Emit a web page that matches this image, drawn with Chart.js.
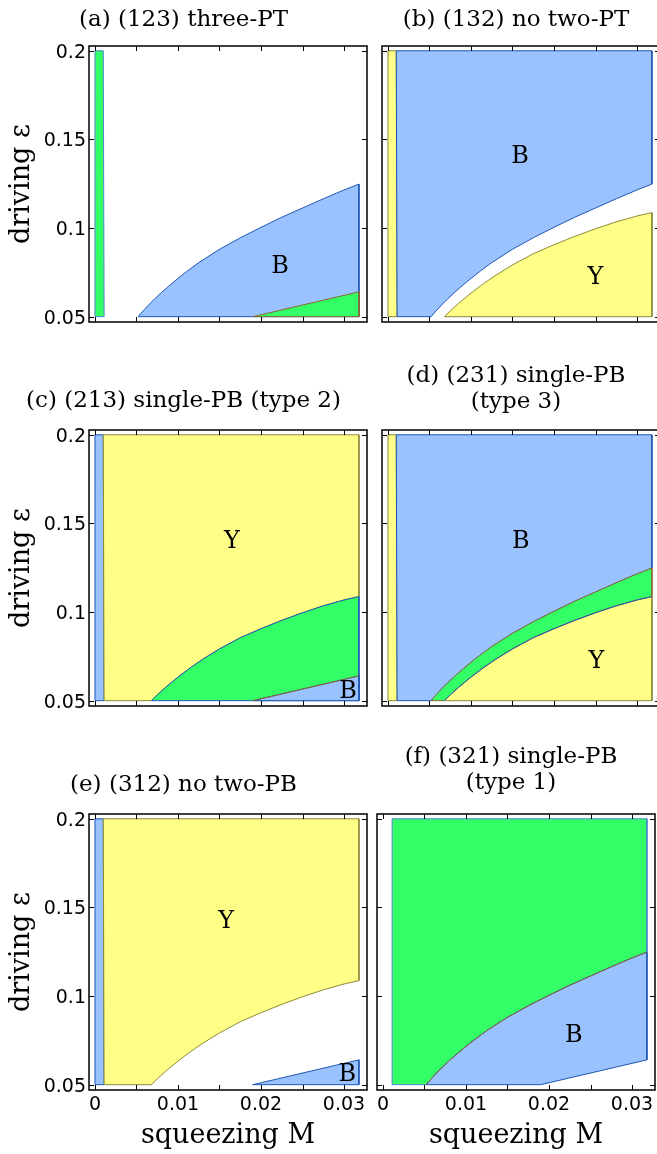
<!DOCTYPE html>
<html>
<head>
<meta charset="utf-8">
<script src="https://cdn.jsdelivr.net/npm/chart.js@4.4.1/dist/chart.umd.min.js"></script>
<style>
  html, body { margin: 0; padding: 0; background: #fff; overflow: hidden; }
  body { width: 657px; height: 1154px; position: relative; }
  canvas { position: absolute; }
</style>
</head>
<body>
<canvas id="pa"></canvas>
<canvas id="pb"></canvas>
<canvas id="pc"></canvas>
<canvas id="pd"></canvas>
<canvas id="pe"></canvas>
<canvas id="pf"></canvas>
<script>
// axes
const mRange = [0, 0.0318];
const epsRange = [0.05, 0.2];
const mTicks = [0, 0.005, 0.01, 0.015, 0.02, 0.025, 0.03];
const mLabelValues = [0, 0.01, 0.02, 0.03];
const mLabels = ['0', '0.01', '0.02', '0.03'];
const epsTicks = [0.05, 0.1, 0.15, 0.2];
const epsLabels = ['0.05', '0.1', '0.15', '0.2'];

// boundary curves in the (M, eps) plane
const upperM = [0.0052, 0.0058, 0.0065, 0.0072, 0.008, 0.009, 0.01, 0.011, 0.0125, 0.015, 0.0175, 0.02, 0.0225, 0.025, 0.0275, 0.03, 0.0318];
const upperEps = [0.05, 0.0533, 0.0568, 0.0601, 0.0636, 0.0677, 0.0716, 0.0753, 0.0805, 0.088, 0.0945, 0.1004, 0.1061, 0.1113, 0.1165, 0.1215, 0.1248];
const lowerM = [0.0068, 0.0075, 0.0085, 0.01, 0.0115, 0.013, 0.015, 0.0175, 0.02, 0.0225, 0.025, 0.0275, 0.03, 0.0318];
const lowerEps = [0.05, 0.0533, 0.0575, 0.0633, 0.0686, 0.0734, 0.0792, 0.0855, 0.0906, 0.0953, 0.0996, 0.1035, 0.1068, 0.1087];
const wedgeM = [0.019, 0.0318];
const wedgeEps = [0.05, 0.064];
const stripM = [0, 0, 0.001, 0.0011];
const stripEps = [0.05, 0.2, 0.2, 0.05];
const innerEdgeM = [0.0011, 0.001];   // bottom, top
const outerEdgeM = [0.0012, 0.0011];  // panel (f)

const titles = [
  ['(a) (123) three-PT'],
  ['(b) (132) no two-PT'],
  ['(c) (213) single-PB (type 2)'],
  ['(d) (231) single-PB', '(type 3)'],
  ['(e) (312) no two-PB'],
  ['(f) (321) single-PB', '(type 1)']
];

// region letters
const tagsA = { text: ['B'], m: [0.0223], eps: [0.0782] };
const tagsB = { text: ['B', 'Y'], m: [0.0159, 0.025], eps: [0.1402, 0.0717] };
const tagsC = { text: ['Y', 'B'], m: [0.0165, 0.0305], eps: [0.1398, 0.0551] };
const tagsD = { text: ['B', 'Y'], m: [0.016, 0.0251], eps: [0.1398, 0.072] };
const tagsE = { text: ['Y', 'B'], m: [0.0158, 0.0304], eps: [0.1421, 0.0556] };
const tagsF = { text: ['B'], m: [0.023], eps: [0.0778] };

const BLUE = '#99c2ff', GREEN = '#33ff66', YELLOW = '#ffff88';
const BLUE_EDGE = '#1f56b4', GREEN_EDGE = '#8a6a2e', YELLOW_EDGE = '#8c8a36', STRIP_EDGE = '#4d85cf';

const xy = (ms, es) => ms.map((m, i) => ({ x: m, y: es[i] }));
const close = pts => pts.concat([pts[0]]);

const upper = xy(upperM, upperEps);
const lower = xy(lowerM, lowerEps);
const wedge = xy(wedgeM, wedgeEps);
const strip = close(xy(stripM, stripEps));

const above = (curve, edge) => close([
  { x: edge[0], y: epsRange[0] }, { x: edge[1], y: epsRange[1] },
  { x: mRange[1], y: epsRange[1] }, ...curve.slice().reverse()
]);
const below = curve => close([...curve, { x: mRange[1], y: epsRange[0] }]);
const band = close([...upper, ...lower.slice().reverse()]);
const cut = close([...upper, wedge[1], wedge[0]]);
const wedgeShape = close([...wedge, { x: mRange[1], y: epsRange[0] }]);

const area = (data, fillColor, edge) => ({ data, fill: 'shape', backgroundColor: fillColor, borderColor: edge });
const edgeLine = (data, edge) => ({ data, fill: false, borderColor: edge });

const panels = [
  { id: 'pa', left: 0, top: 7, col: 0, last: false, gap: 13, tags: tagsA,
    layers: [area(strip, GREEN, STRIP_EDGE), area(below(upper), BLUE, BLUE_EDGE), area(wedgeShape, GREEN, GREEN_EDGE)] },
  { id: 'pb', left: 372, top: 7, col: 1, last: false, gap: 13, tags: tagsB,
    layers: [area(strip, YELLOW, YELLOW_EDGE), area(above(upper, innerEdgeM), BLUE, BLUE_EDGE), area(below(lower), YELLOW, YELLOW_EDGE)] },
  { id: 'pc', left: 0, top: 388, col: 0, last: false, gap: 16, tags: tagsC,
    layers: [area(strip, BLUE, BLUE_EDGE), area(above(lower, innerEdgeM), YELLOW, YELLOW_EDGE), area(below(lower), GREEN, BLUE_EDGE),
             area(wedgeShape, BLUE, BLUE_EDGE), edgeLine(wedge, GREEN_EDGE)] },
  { id: 'pd', left: 372, top: 363, col: 1, last: false, gap: 15, tags: tagsD,
    layers: [area(strip, YELLOW, YELLOW_EDGE), area(above(upper, innerEdgeM), BLUE, BLUE_EDGE), area(band, GREEN, GREEN_EDGE),
             area(below(lower), YELLOW, YELLOW_EDGE), edgeLine(lower, BLUE_EDGE)] },
  { id: 'pe', left: 0, top: 772, col: 0, last: true, gap: 16, tags: tagsE,
    layers: [area(strip, BLUE, BLUE_EDGE), area(above(lower, innerEdgeM), YELLOW, YELLOW_EDGE), area(wedgeShape, BLUE, BLUE_EDGE)] },
  { id: 'pf', left: 367, top: 744, col: 1, last: true, gap: 18, tags: tagsF,
    layers: [area(above(upper, outerEdgeM), GREEN, STRIP_EDGE), area(cut, BLUE, BLUE_EDGE), edgeLine(upper, GREEN_EDGE)] }
];

// frame with inward ticks on all four sides
const frameTicks = {
  id: 'frameTicks',
  afterDraw(chart) {
    const { ctx, chartArea: a, scales: { x, y } } = chart;
    ctx.save();
    ctx.strokeStyle = '#000';
    ctx.lineWidth = 1;
    ctx.beginPath();
    mTicks.forEach(v => {
      const px = Math.round(x.getPixelForValue(v)) + 0.5;
      ctx.moveTo(px, a.bottom); ctx.lineTo(px, a.bottom - 5);
      ctx.moveTo(px, a.top); ctx.lineTo(px, a.top + 5);
    });
    epsTicks.forEach(v => {
      const py = Math.round(y.getPixelForValue(v)) + 0.5;
      ctx.moveTo(a.left, py); ctx.lineTo(a.left + 5, py);
      ctx.moveTo(a.right, py); ctx.lineTo(a.right - 5, py);
    });
    ctx.stroke();
    ctx.lineWidth = 1.5;
    ctx.strokeRect(a.left, a.top, a.right - a.left, a.bottom - a.top);
    ctx.restore();
  }
};

const regionTags = {
  id: 'regionTags',
  afterDatasetsDraw(chart, args, opts) {
    const { ctx, scales: { x, y } } = chart;
    const t = opts.tags;
    ctx.save();
    ctx.fillStyle = '#000';
    ctx.font = '24px "DejaVu Serif"';
    ctx.textAlign = 'center';
    ctx.textBaseline = 'middle';
    t.text.forEach((s, i) => ctx.fillText(s, x.getPixelForValue(t.m[i]), y.getPixelForValue(t.eps[i])));
    ctx.restore();
  }
};

const FRAME_W = 278, FRAME_H = 276;

panels.forEach((p, k) => {
  const lines = titles[k];
  const leftW = p.col === 0 ? 89 : 10;
  const rightPad = p.col === 0 ? 5 : 10;
  const bottomH = p.last ? 64 : 10;
  const canvas = document.getElementById(p.id);
  canvas.width = leftW + FRAME_W + rightPad;
  canvas.height = lines.length * 26 + p.gap + FRAME_H + bottomH;
  canvas.style.left = p.left + 'px';
  canvas.style.top = p.top + 'px';

  const datasets = p.layers.map((l, i) => Object.assign({
    type: 'line', borderWidth: 1, pointRadius: 0, tension: 0,
    order: p.layers.length - i
  }, l));

  new Chart(canvas, {
    type: 'line',
    data: { datasets },
    options: {
      responsive: false,
      animation: false,
      events: [],
      layout: { padding: { left: 0, right: rightPad, top: 0, bottom: 0 } },
      plugins: {
        legend: { display: false },
        tooltip: { enabled: false },
        title: {
          display: true, text: lines, color: '#000',
          font: { family: 'DejaVu Serif', size: 23, weight: 'normal', lineHeight: '26px' },
          padding: { top: 0, bottom: p.gap }
        },
        regionTags: { tags: p.tags }
      },
      scales: {
        x: {
          type: 'linear', min: -0.00072, max: 0.03277,
          grid: { display: false, drawTicks: false },
          border: { display: false },
          ticks: {
            display: p.last, color: '#000', padding: 4, maxRotation: 0, autoSkip: false,
            font: { family: 'DejaVu Sans', size: 19 },
            callback: (v, i) => mLabels[i]
          },
          title: {
            display: p.last, text: 'squeezing M', color: '#000',
            font: { family: 'DejaVu Serif', size: 27 },
            padding: { top: 0, bottom: 2 }
          },
          afterBuildTicks: s => { s.ticks = mLabelValues.map(v => ({ value: v })); },
          afterFit: s => { s.height = bottomH; s.paddingLeft = 0; s.paddingRight = 0; }
        },
        y: {
          type: 'linear', min: 0.047, max: 0.2027,
          grid: { display: false, drawTicks: false },
          border: { display: false },
          ticks: {
            display: p.col === 0, color: '#000', padding: 3, labelOffset: 2,
            font: { family: 'DejaVu Sans', size: 19 },
            callback: (v, i) => epsLabels[i]
          },
          title: {
            display: p.col === 0, text: 'driving ε', color: '#000',
            font: { family: 'DejaVu Serif', size: 27 },
            padding: { top: 6, bottom: 0 }
          },
          afterBuildTicks: s => { s.ticks = epsTicks.map(v => ({ value: v })); },
          afterFit: s => { s.width = leftW; s.paddingTop = 0; s.paddingBottom = 0; }
        }
      }
    },
    plugins: [frameTicks, regionTags]
  });
});
</script>
</body>
</html>
